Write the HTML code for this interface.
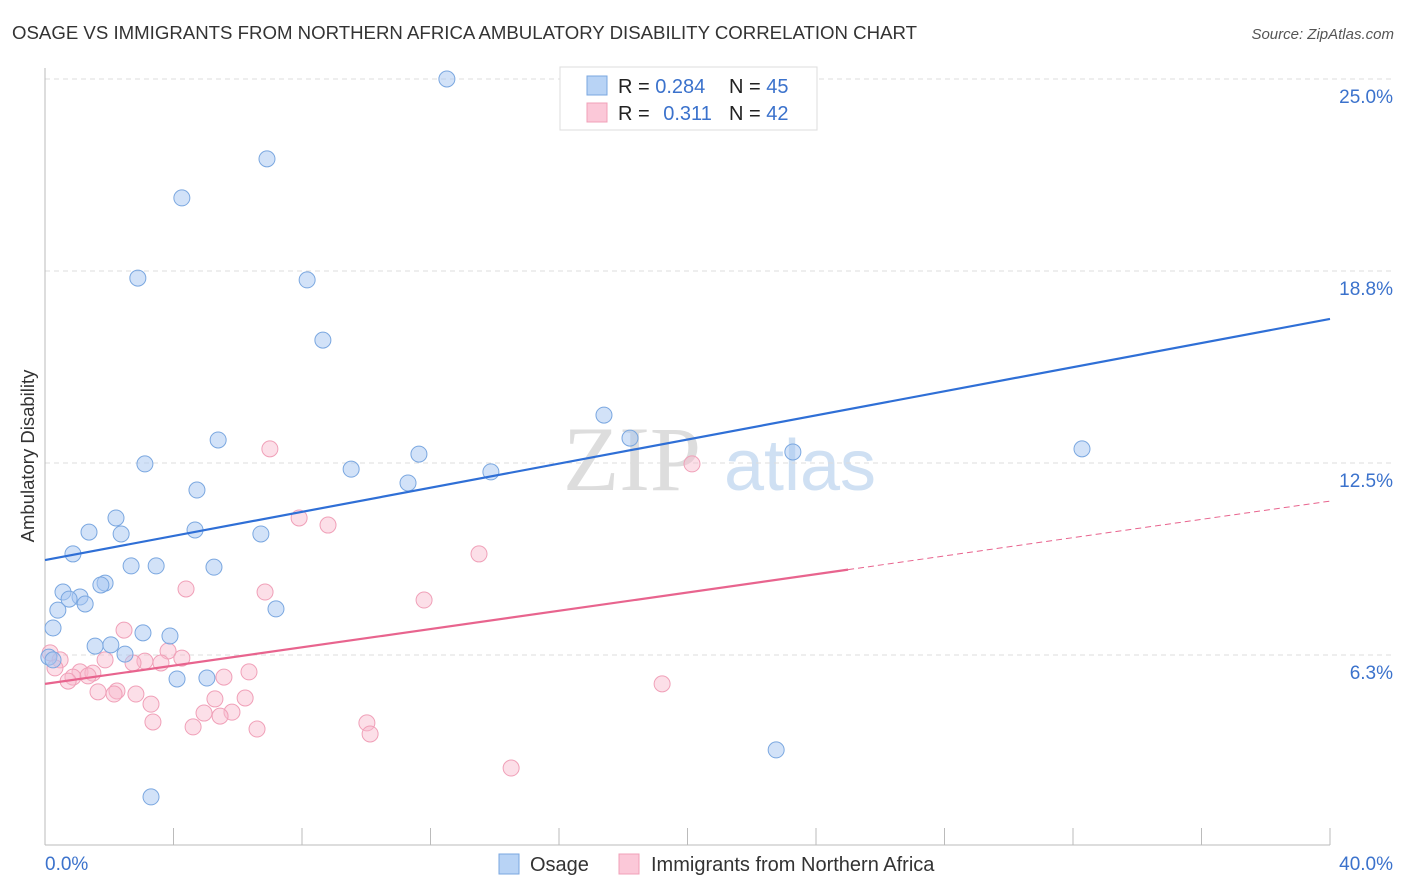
<!DOCTYPE html>
<html><head><meta charset="utf-8"><style>
body{margin:0;background:#fff;font-family:"Liberation Sans",sans-serif;}
svg{display:block}
</style></head><body>
<svg id="chart" width="1406" height="892">
<text x="12" y="39" font-size="18" textLength="905" lengthAdjust="spacingAndGlyphs" fill="#333">OSAGE VS IMMIGRANTS FROM NORTHERN AFRICA AMBULATORY DISABILITY CORRELATION CHART</text>
<text x="1394" y="39" font-size="15" fill="#555" font-style="italic" text-anchor="end">Source: ZipAtlas.com</text>
<g><text x="632" y="490" font-size="92" font-family="Liberation Serif,serif" fill="#ddd" text-anchor="middle">ZIP</text><text x="800" y="490" font-size="72" fill="#cfe0f3" text-anchor="middle">atlas</text></g>
<g id="grid"></g>
<g id="axes"></g>
<g id="marks"></g>
<text transform="translate(34,456) rotate(-90)" font-size="18.5" fill="#333" text-anchor="middle">Ambulatory Disability</text>
<g>
<rect x="560" y="67" width="257" height="63" fill="#fff" stroke="#ddd"/>
<rect x="587" y="76" width="20" height="19" fill="#b8d3f5" stroke="#7aa7e0"/>
<rect x="587" y="103" width="20" height="19" fill="#fbc8d8" stroke="#f0a0b8"/>
<text x="618" y="93" font-size="20" fill="#222">R = <tspan fill="#3b72cc">0.284</tspan></text>
<text x="729" y="93" font-size="20" fill="#222">N = <tspan fill="#3b72cc">45</tspan></text>
<text x="618" y="120" font-size="20" fill="#222">R = <tspan fill="#3b72cc" dx="8">0.311</tspan></text>
<text x="729" y="120" font-size="20" fill="#222">N = <tspan fill="#3b72cc">42</tspan></text>
</g>
<g>
<rect x="499" y="854" width="20" height="20" fill="#b8d3f5" stroke="#7aa7e0"/>
<text x="530" y="871" font-size="20" fill="#333">Osage</text>
<rect x="619" y="854" width="20" height="20" fill="#fbc8d8" stroke="#f0a0b8"/>
<text x="651" y="871" font-size="20" fill="#333">Immigrants from Northern Africa</text>
</g>
</svg>
<script>
const yTicks=[6.25,12.5,18.75,25];
const yTickLabels=["6.3%","12.5%","18.8%","25.0%"];
const xEnds=[0,40];
const xEndLabels=["0.0%","40.0%"];
const osageX=[12.51,6.91,4.26,2.89,8.16,8.65,17.40,18.21,5.39,11.64,3.11,9.53,13.88,11.30,4.73,23.28,32.28,2.21,1.37,2.37,4.67,6.72,0.87,3.46,2.68,5.26,1.87,1.74,0.56,1.09,0.75,1.25,0.40,7.19,0.25,3.05,3.89,1.56,2.05,2.49,0.12,0.25,4.11,5.04,22.76,3.30];
const osageY=[25.0,22.40,21.13,18.52,18.46,16.50,14.06,13.31,13.25,12.79,12.47,12.30,12.21,11.85,11.62,12.86,12.96,10.71,10.25,10.19,10.32,10.19,9.54,9.15,9.15,9.11,8.59,8.53,8.30,8.14,8.07,7.91,7.71,7.75,7.13,6.97,6.87,6.54,6.58,6.28,6.18,6.09,5.47,5.50,3.16,1.63];
const immX=[7.00,7.91,8.81,13.51,4.39,6.85,11.80,2.46,3.83,0.16,4.26,0.47,1.87,3.11,3.61,2.74,6.35,1.09,1.49,0.31,0.87,1.34,0.72,5.57,19.21,1.65,2.24,2.15,2.83,5.29,6.23,3.30,4.95,5.82,5.45,3.36,10.02,4.61,6.60,10.12,14.51,20.14];
const immY=[12.96,10.71,10.48,9.54,8.40,8.30,8.04,7.06,6.38,6.32,6.15,6.09,6.09,6.05,5.99,5.99,5.70,5.70,5.66,5.83,5.53,5.57,5.40,5.53,5.31,5.05,5.08,4.98,4.98,4.82,4.85,4.65,4.36,4.39,4.26,4.07,4.04,3.91,3.84,3.68,2.57,12.47];
const osageTrend=[9.34,17.19];
const immTrend=[5.31,11.26];
const immSolidEnd=25;
const NS="http://www.w3.org/2000/svg";
const X=v=>45+v*32.125, Y=v=>847-v*30.72;
function mk(t,a,p){const e=document.createElementNS(NS,t);for(const k in a)e.setAttribute(k,a[k]);p.appendChild(e);return e;}
const grid=document.getElementById('grid'),axes=document.getElementById('axes'),marks=document.getElementById('marks');
yTicks.forEach((t,i)=>{
 const l=mk('line',{x1:45,x2:1394,y1:Y(t),y2:Y(t),stroke:'#ddd','stroke-dasharray':'5,4'},grid);
 
 
 const tx=mk('text',{x:1393,y:Y(t)+24,'font-size':19,fill:'#3b72cc','text-anchor':'end'},grid);
 tx.textContent=yTickLabels[i];
 
 
});
const al=mk('line',{x1:45,x2:45,y1:68,y2:845,stroke:'#bbb'},axes);


const bl=mk('line',{x1:45,x2:1330,y1:845,y2:845,stroke:'#bbb'},axes);


for(let k=1;k<=10;k++){const t=mk('line',{x1:X(k*4),x2:X(k*4),y1:828,y2:845,stroke:'#bbb'},axes);
 
 }
xEnds.forEach((v,i)=>{const t=mk('text',{x:i?1393:45,y:870,'font-size':19,fill:'#3b72cc','text-anchor':i?'end':'start'},axes);
 t.textContent=xEndLabels[i];
 
 });
function pts(xs,ys,fill,stroke,name){xs.forEach((x,i)=>{const c=mk('circle',{cx:X(x),cy:Y(ys[i]),r:8,fill:fill,stroke:stroke,'stroke-width':1},marks);
 
 });}
pts(immX,immY,'rgba(248,185,205,0.45)','#f0a0b8','immigrants-point');
pts(osageX,osageY,'rgba(165,198,242,0.5)','#7aa7e0','osage-point');
const t1=mk('line',{x1:X(0),y1:Y(osageTrend[0]),x2:X(40),y2:Y(osageTrend[1]),stroke:'#2f6fd6','stroke-width':2.2},marks);


const ym=immTrend[0]+(immTrend[1]-immTrend[0])*immSolidEnd/40;
const t2=mk('line',{x1:X(0),y1:Y(immTrend[0]),x2:X(immSolidEnd),y2:Y(ym),stroke:'#e8648e','stroke-width':2.2},marks);


const t3=mk('line',{x1:X(immSolidEnd),y1:Y(ym),x2:X(40),y2:Y(immTrend[1]),stroke:'#e8648e','stroke-width':1,'stroke-dasharray':'6,4'},marks);


</script>
</body></html>
